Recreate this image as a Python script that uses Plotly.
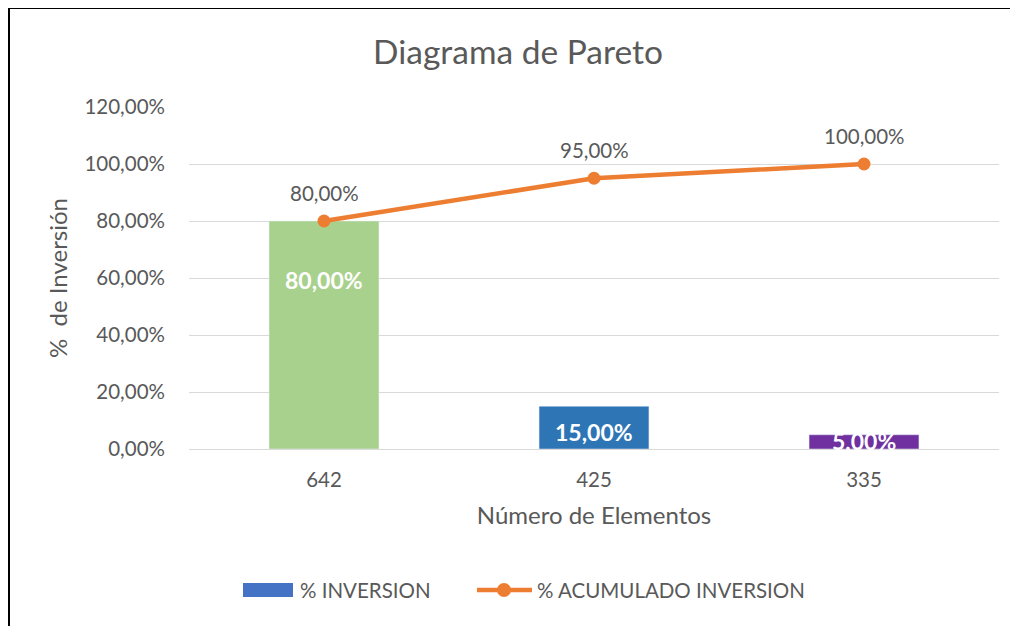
import plotly.graph_objects as go

categories = ["642", "425", "335"]
pct_inversion = [80.0, 15.0, 5.0]
pct_acumulado = [80.0, 95.0, 100.0]
bar_colors = ["#A9D18E", "#2E75B6", "#7030A0"]
y_ticks = [0, 20, 40, 60, 80, 100, 120]
legend_names = ["% INVERSION", "% ACUMULADO INVERSION"]

def fmt(v):
    return f"{v:.2f}".replace(".", ",") + "%"

FONT = "Lato"
GREY = "#595959"
ORANGE = "#ED7D31"

fig = go.Figure()
fig.add_trace(go.Bar(
    x=categories, y=pct_inversion, marker_color=bar_colors,
    width=0.407, showlegend=False, name=legend_names[0],
))
fig.add_trace(go.Scatter(
    x=categories, y=pct_acumulado, mode="lines+markers",
    name=legend_names[1], showlegend=False,
    line=dict(color=ORANGE, width=4.5),
    marker=dict(color=ORANGE, size=13),
))

# labels on the cumulative line (category index positions)
for i, v in enumerate(pct_acumulado):
    fig.add_annotation(x=i, y=v, yshift=28, text=fmt(v), showarrow=False,
                       font=dict(family=FONT, size=20.5, color=GREY))

# labels inside the bars
label_shift = [-59, -26, -6]
for i, (v, s) in enumerate(zip(pct_inversion, label_shift)):
    fig.add_annotation(x=i, y=v, yshift=s, text="<b>" + fmt(v) + "</b>",
                       showarrow=False, font=dict(family=FONT, size=23, color="white"))

fig.update_layout(
    width=1018, height=626,
    margin=dict(l=181, r=27, t=99, b=185),
    paper_bgcolor="white", plot_bgcolor="white",
    barmode="overlay", showlegend=False,
    title=dict(text="Diagrama de Pareto", x=0.501, xanchor="center", xref="container",
               y=0.93, yanchor="middle", yref="container",
               font=dict(family=FONT, size=33.5, color=GREY)),
    font=dict(family=FONT, color=GREY),
    xaxis=dict(
        type="category", range=[-0.5, len(categories) - 0.5],
        title=dict(text="Número de Elementos", font=dict(size=24, color=GREY), standoff=17),
        tickfont=dict(size=20.5, color=GREY), showgrid=False, ticklabelstandoff=12,
        showline=True, linecolor="#D9D9D9", linewidth=1, ticks="",
    ),
    yaxis=dict(
        title=dict(text="%  de Inversión", font=dict(size=24, color=GREY), standoff=10),
        range=[0, 120], tickvals=y_ticks, ticktext=[fmt(v) for v in y_ticks],
        tickfont=dict(size=20.5, color=GREY), ticklabelstandoff=23,
        showgrid=True, gridcolor="#D9D9D9", gridwidth=1, zeroline=False,
        ticks="",
    ),
)

# custom legend (paper coords relative to the plot area)
def px_x(p):
    return (p - 189) / 810

def px_y(p):
    return (449 - p) / 342

fig.add_shape(type="rect", xref="paper", yref="paper",
              x0=px_x(243), x1=px_x(293), y0=px_y(597), y1=px_y(583),
              fillcolor="#4472C4", line=dict(width=0))
fig.add_annotation(xref="paper", yref="paper", x=px_x(298), y=px_y(590), xanchor="left",
                   yanchor="middle", text=legend_names[0], showarrow=False,
                   font=dict(family=FONT, size=20.5, color=GREY))
fig.add_shape(type="line", xref="paper", yref="paper",
              x0=px_x(477), x1=px_x(532), y0=px_y(590), y1=px_y(590),
              line=dict(color=ORANGE, width=4.5))
fig.add_shape(type="circle", xref="paper", yref="paper",
              x0=px_x(497), x1=px_x(511), y0=px_y(597), y1=px_y(583),
              fillcolor=ORANGE, line=dict(width=0))
fig.add_annotation(xref="paper", yref="paper", x=px_x(535), y=px_y(590), xanchor="left",
                   yanchor="middle", text=legend_names[1], showarrow=False,
                   font=dict(family=FONT, size=20.5, color=GREY))

# chart frame (black border at top and left)
fig.add_shape(type="line", xref="paper", yref="paper",
              x0=px_x(8.5), x1=px_x(1030), y0=px_y(7.5), y1=px_y(7.5),
              line=dict(color="black", width=3))
fig.add_shape(type="line", xref="paper", yref="paper",
              x0=px_x(8.5), x1=px_x(8.5), y0=px_y(7.5), y1=px_y(640),
              line=dict(color="black", width=3))

fig.write_html("out.html")
